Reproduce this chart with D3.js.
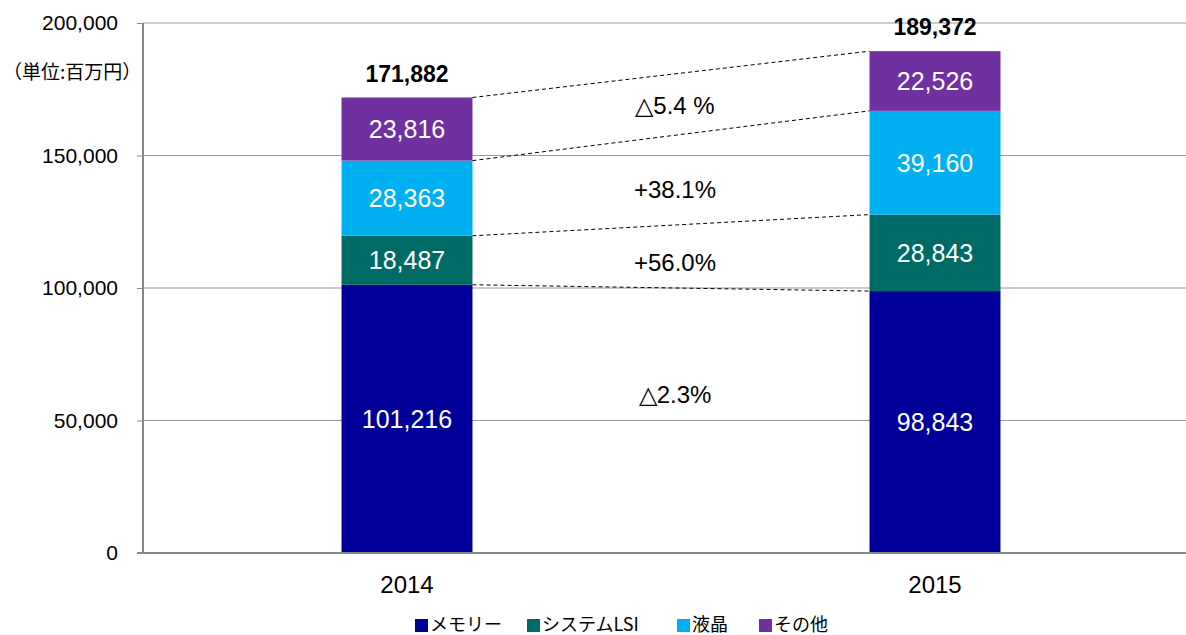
<!DOCTYPE html>
<html>
<head>
<meta charset="utf-8">
<script src="https://cdn.jsdelivr.net/npm/d3@7"></script>
<style>
  body { margin: 0; background: #fff; }
  svg { display: block; font-family: "Liberation Sans", Arial, sans-serif; }
</style>
</head>
<body>
<div id="chart"></div>
<script>
const years = ['2014', '2015'];
const seriesNames = ['メモリー', 'システムLSI', '液晶', 'その他'];
const seriesColors = ['#000099', '#006A66', '#00B0F0', '#7030A0'];
const memory = [101216, 98843];
const systemLsi = [18487, 28843];
const lcd = [28363, 39160];
const other = [23816, 22526];
const totals = [171882, 189372];
const changes = ['△2.3%', '+56.0%', '+38.1%', '△5.4 %'];
const yTicks = [0, 50000, 100000, 150000, 200000];

const width = 1186;
const height = 635;
const margin = { top: 23, left: 143, right: -13, bottom: 82 };

const svg = d3.select('#chart').append('svg')
    .attr('width', width)
    .attr('height', height);

const seriesValues = [memory, systemLsi, lcd, other];
const rows = years.map((y, i) => {
  const row = { year: y };
  seriesNames.forEach((s, j) => { row[s] = seriesValues[j][i]; });
  return row;
});
const stacked = d3.stack().keys(seriesNames)(rows);

const x = d3.scaleBand(years, [margin.left, width - margin.right])
    .paddingInner(0.752)
    .paddingOuter(0.376);
const y = d3.scaleLinear([0, 200000], [height - margin.bottom, margin.top]);

// gridlines
svg.append('g')
  .selectAll('line')
  .data(yTicks.slice(1))
  .join('line')
    .attr('x1', margin.left)
    .attr('x2', width)
    .attr('y1', d => y(d))
    .attr('y2', d => y(d))
    .attr('stroke', '#9a9a9a')
    .attr('stroke-width', 1);

// y axis
const yAxis = d3.axisLeft(y).tickValues(yTicks).tickSize(6).tickPadding(19)
    .tickFormat(d3.format(','));
const gy = svg.append('g')
    .attr('transform', `translate(${margin.left},0)`)
    .call(yAxis);
gy.select('.domain').remove();
gy.selectAll('line').attr('stroke', '#888').attr('stroke-width', 1);
gy.selectAll('text').attr('font-size', 21).attr('fill', '#000');

// bars
stacked.forEach((layer, j) => {
  svg.append('g')
    .selectAll('rect')
    .data(layer)
    .join('rect')
      .attr('x', d => x(d.data.year))
      .attr('width', x.bandwidth())
      .attr('y', d => y(d[1]))
      .attr('height', d => y(d[0]) - y(d[1]))
      .attr('fill', seriesColors[j]);

  svg.append('g')
    .selectAll('text')
    .data(layer)
    .join('text')
      .attr('x', d => x(d.data.year) + x.bandwidth() / 2)
      .attr('y', d => (y(d[0]) + y(d[1])) / 2 + 9)
      .attr('text-anchor', 'middle')
      .attr('font-size', 25)
      .attr('fill', '#fff')
      .text(d => d3.format(',')(d[1] - d[0]));
});

// axis lines
svg.append('line')
    .attr('x1', margin.left).attr('x2', margin.left)
    .attr('y1', y(200000)).attr('y2', y(0))
    .attr('stroke', '#878787').attr('stroke-width', 2);
svg.append('line')
    .attr('x1', margin.left - 6).attr('x2', width)
    .attr('y1', y(0)).attr('y2', y(0))
    .attr('stroke', '#878787').attr('stroke-width', 2);

// connectors between stacks
const b0 = x(years[0]) + x.bandwidth();
const b1 = x(years[1]);
const tops0 = stacked.map(l => l[0][1]);
const tops1 = stacked.map(l => l[1][1]);
svg.append('g')
  .selectAll('line')
  .data(seriesNames)
  .join('line')
    .attr('x1', b0)
    .attr('x2', b1)
    .attr('y1', (d, j) => y(tops0[j]))
    .attr('y2', (d, j) => y(tops1[j]))
    .attr('stroke', '#000')
    .attr('stroke-width', 1)
    .attr('stroke-dasharray', '4,3');

// change labels, placed between the connectors at mid span
const labelFrac = [0.6, 0.41, 0.4, 0.5];
const midX = (b0 + b1) / 2 + 4;
svg.append('g')
  .selectAll('text')
  .data(changes)
  .join('text')
    .attr('x', midX)
    .attr('y', (d, j) => {
      const lo = j === 0 ? 0 : (stacked[j][0][0] + stacked[j][1][0]) / 2;
      const hi = (stacked[j][0][1] + stacked[j][1][1]) / 2;
      return y(lo + (hi - lo) * labelFrac[j]) + 9;
    })
    .attr('text-anchor', 'middle')
    .attr('font-size', 24)
    .attr('fill', '#000')
    .text(d => d);

// totals
svg.append('g')
  .selectAll('text')
  .data(totals)
  .join('text')
    .attr('x', (d, i) => x(years[i]) + x.bandwidth() / 2)
    .attr('y', d => y(d) - 16)
    .attr('text-anchor', 'middle')
    .attr('font-size', 23)
    .attr('font-weight', 'bold')
    .attr('fill', '#000')
    .text(d => d3.format(',')(d));

// x labels
svg.append('g')
  .selectAll('text')
  .data(years)
  .join('text')
    .attr('x', d => x(d) + x.bandwidth() / 2)
    .attr('y', y(0) + 40)
    .attr('text-anchor', 'middle')
    .attr('font-size', 24)
    .attr('fill', '#000')
    .text(d => d);

// unit label
svg.append('text')
    .attr('x', 3)
    .attr('y', 79)
    .attr('font-size', 19)
    .attr('font-family', '"Noto Sans CJK JP", sans-serif')
    .attr('fill', '#000')
    .text('（単位:百万円）');

// legend
const legendX = [415, 527, 677, 759];
const legend = svg.append('g')
  .selectAll('g')
  .data(seriesNames)
  .join('g')
    .attr('transform', (d, i) => `translate(${legendX[i]},${619})`);
legend.append('rect')
    .attr('width', 13).attr('height', 13)
    .attr('fill', (d, i) => seriesColors[i]);
legend.append('text')
    .attr('x', 15)
    .attr('y', 12)
    .attr('font-size', 18)
    .attr('font-family', '"Noto Sans CJK JP", sans-serif')
    .attr('fill', '#000')
    .text(d => d);
</script>
</body>
</html>
